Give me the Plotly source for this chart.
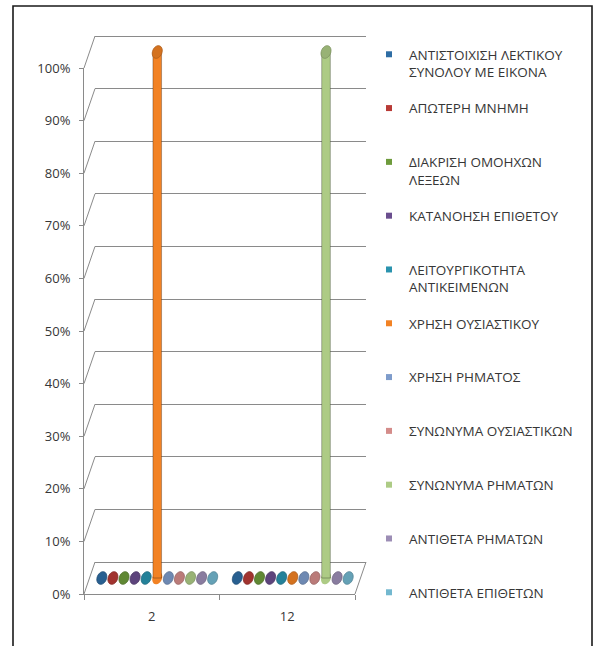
import numpy as np
import plotly.graph_objects as go

# ---- data ---------------------------------------------------------------
categories = ["2", "12"]

series_names = [
    "ΑΝΤΙΣΤΟΙΧΙΣΗ ΛΕΚΤΙΚΟΥ<br>ΣΥΝΟΛΟΥ ΜΕ ΕΙΚΟΝΑ",
    "ΑΠΩΤΕΡΗ ΜΝΗΜΗ",
    "ΔΙΑΚΡΙΣΗ ΟΜΟΗΧΩΝ<br>ΛΕΞΕΩΝ",
    "ΚΑΤΑΝΟΗΣΗ ΕΠΙΘΕΤΟΥ",
    "ΛΕΙΤΟΥΡΓΙΚΟΤΗΤΑ<br>ΑΝΤΙΚΕΙΜΕΝΩΝ",
    "ΧΡΗΣΗ ΟΥΣΙΑΣΤΙΚΟΥ",
    "ΧΡΗΣΗ ΡΗΜΑΤΟΣ",
    "ΣΥΝΩΝΥΜΑ ΟΥΣΙΑΣΤΙΚΩΝ",
    "ΣΥΝΩΝΥΜΑ ΡΗΜΑΤΩΝ",
    "ΑΝΤΙΘΕΤΑ ΡΗΜΑΤΩΝ",
    "ΑΝΤΙΘΕΤΑ ΕΠΙΘΕΤΩΝ",
]

# share of each series within category "2" and category "12"
values_cat_2 = [0, 0, 0, 0, 0, 1.0, 0, 0, 0, 0, 0]
values_cat_12 = [0, 0, 0, 0, 0, 0, 0, 0, 1.0, 0, 0]

percent_ticks = [0, 0.1, 0.2, 0.3, 0.4, 0.5, 0.6, 0.7, 0.8, 0.9, 1.0]

series_colors = [
    "#2E6DA4", "#B83A36", "#6E9B3C", "#6A4E8E", "#2A93AE", "#F28224",
    "#7E9CCB", "#D48C8A", "#ADCB85", "#9C8DB5", "#73B8CF",
]

# ---- geometry of the pseudo-3D box (pixels) --------------------------------
W, H = 599, 646
FRONT_L, FRONT_R = 84, 355          # front plane, left / right
FRONT_B, FRONT_T = 594, 68          # front plane, 0% / 100%
DEPTH_X, DEPTH_Y = 11, 32           # shift from front plane to back wall
PX_PER_UNIT = FRONT_B - FRONT_T     # pixels for 0% -> 100%
GRID = "#8a8a8a"
TEXT = "#363636"
FONT = "Open Sans"


def px_x(x):
    return x / W


def px_y(y):
    return 1 - y / H


def plane(shift, pad=0.0):
    """Domains of a plane pushed `shift` (0..1) of the way into the depth.
    `pad` widens the value range on both ends while keeping the scale."""
    dx, dy = DEPTH_X * shift, DEPTH_Y * shift
    extra = pad * PX_PER_UNIT
    xd = [px_x(FRONT_L + dx), px_x(FRONT_R + dx)]
    yd = [px_y(FRONT_B - dy + extra), px_y(FRONT_T - dy - extra)]
    return xd, yd, [-pad, 1 + pad]


back_x, back_y, back_r = plane(1.0, pad=0.01)
front_x, front_y, front_r = plane(0.0)
mid_x, mid_y, mid_r = plane(0.5, pad=0.06)

fig = go.Figure()

# back wall (gridlines only) on x/y
fig.add_trace(go.Scatter(x=[None], y=[None], xaxis="x", yaxis="y",
                         showlegend=False, hoverinfo="skip"))
# front axes on x2/y2
fig.add_trace(go.Scatter(x=categories, y=[0, 0], xaxis="x2", yaxis="y2",
                         mode="markers", marker=dict(opacity=0),
                         showlegend=False, hoverinfo="skip"))

# cylinders on x3/y3 (mid depth)
n_series = len(series_names)
for i, name in enumerate(series_names):
    vals = [values_cat_2[i], values_cat_12[i]]
    col = series_colors[i]
    fig.add_trace(go.Bar(
        x=categories, y=vals, xaxis="x3", yaxis="y3",
        marker=dict(color=col, line=dict(color="rgba(0,0,0,0.28)", width=1)),
        name=name, legendgroup=f"s{i}", showlegend=False,
        hovertemplate="%{x}: %{y:.0%}<extra>" + name.replace("<br>", " ") + "</extra>",
    ))
    # legend entry with a small square key
    label = name if "<br>" in name else name + "<br>\u00a0"
    fig.add_trace(go.Scatter(
        x=[None], y=[None], xaxis="x3", yaxis="y3", mode="markers",
        marker=dict(symbol="square", size=6, color=col),
        name=label, legendgroup=f"s{i}", showlegend=True, hoverinfo="skip",
    ))

# elliptical caps of the cylinders, anchored at each bar's value
BARGAP = 0.1
slot = (1 - BARGAP) / n_series


def ellipse_path(rx, ry, tilt_deg, n=32):
    t = np.linspace(0, 2 * np.pi, n, endpoint=False)
    ex, ey = rx * np.cos(t), ry * np.sin(t)
    a = np.radians(tilt_deg)
    xr = ex * np.cos(a) - ey * np.sin(a)
    yr = ex * np.sin(a) + ey * np.cos(a)
    pts = " L".join(f"{x:.2f},{y:.2f}" for x, y in zip(xr, yr))
    return "M" + pts + " Z"


def darker(hex_col, f):
    h = hex_col.lstrip("#")
    r, g, b = (int(h[k:k + 2], 16) for k in (0, 2, 4))
    return f"rgb({int(r * f)},{int(g * f)},{int(b * f)})"


shapes = []
cap = ellipse_path(4.7, 6.6, -22)
for ci, vals in enumerate([values_cat_2, values_cat_12]):
    for i, v in enumerate(vals):
        xpos = ci - (1 - BARGAP) / 2 + (i + 0.5) * slot
        col = series_colors[i]
        if v > 0:
            shapes.append(dict(type="path", xref="x3", yref="y3",
                               xsizemode="pixel", ysizemode="pixel",
                               xanchor=xpos, yanchor=0, path=cap,
                               fillcolor=col, line=dict(width=0), layer="below"))
        shapes.append(dict(type="path", xref="x3", yref="y3",
                           xsizemode="pixel", ysizemode="pixel",
                           xanchor=xpos, yanchor=v, path=cap,
                           fillcolor=darker(col, 0.88),
                           line=dict(color=darker(col, 0.72), width=0.8)))

# depth edges joining the front axis ticks to the back-wall gridlines
for v in percent_ticks:
    yf = FRONT_B - PX_PER_UNIT * v
    shapes.append(dict(type="line", xref="paper", yref="paper",
                       x0=px_x(FRONT_L), y0=px_y(yf),
                       x1=px_x(FRONT_L + DEPTH_X), y1=px_y(yf - DEPTH_Y),
                       line=dict(color=GRID, width=1)))
# right edge of the floor
shapes.append(dict(type="line", xref="paper", yref="paper",
                   x0=px_x(FRONT_R), y0=px_y(FRONT_B),
                   x1=px_x(FRONT_R + DEPTH_X), y1=px_y(FRONT_B - DEPTH_Y),
                   line=dict(color=GRID, width=1)))
# outer frame (open at the bottom)
fx0, fx1, fy = px_x(13), px_x(592), px_y(6)
shapes.append(dict(type="path", xref="paper", yref="paper",
                   path=f"M{fx0},-0.05 L{fx0},{fy} L{fx1},{fy} L{fx1},-0.05",
                   line=dict(color="#1a1a1a", width=1.6)))

hidden = dict(visible=False)
fig.update_layout(
    width=W, height=H, autosize=False,
    margin=dict(l=0, r=0, t=0, b=0, autoexpand=False),
    paper_bgcolor="white", plot_bgcolor="rgba(0,0,0,0)",
    font=dict(family=FONT, size=12, color=TEXT),
    barmode="group", bargap=BARGAP, bargroupgap=0.22,
    xaxis=dict(domain=back_x, range=[-0.5, 1.5], anchor="y", **hidden),
    yaxis=dict(domain=back_y, range=back_r, anchor="x", tickvals=percent_ticks,
               showgrid=True, gridcolor=GRID, gridwidth=1, zeroline=False,
               showticklabels=False, showline=False, ticks=""),
    xaxis2=dict(domain=front_x, anchor="y2", type="category",
                categoryorder="array", categoryarray=categories,
                range=[-0.5, 1.5], tickson="boundaries", ticks="outside",
                ticklen=5, tickcolor=GRID, showline=True, linecolor=GRID,
                showgrid=False, zeroline=False, ticklabelstandoff=10,
                tickfont=dict(family=FONT, size=13, color=TEXT)),
    yaxis2=dict(domain=front_y, anchor="x2", range=front_r,
                tickvals=percent_ticks, tickformat=".0%", ticks="outside",
                ticklen=4, tickcolor=GRID, showline=True, linecolor=GRID,
                showgrid=False, zeroline=False, ticklabelstandoff=6,
                tickfont=dict(family=FONT, size=13, color=TEXT)),
    xaxis3=dict(domain=mid_x, anchor="y3", type="category",
                categoryorder="array", categoryarray=categories,
                range=[-0.5, 1.5], **hidden),
    yaxis3=dict(domain=mid_y, anchor="x3", range=mid_r, **hidden),
    legend=dict(x=px_x(369), xanchor="left", y=px_y(39), yanchor="top",
                font=dict(family=FONT, size=13.5, color=TEXT),
                bgcolor="rgba(0,0,0,0)", tracegroupgap=15.7,
                itemsizing="trace", valign="top", traceorder="grouped"),
    shapes=shapes,
    showlegend=True,
)

fig.write_html("out.html")
